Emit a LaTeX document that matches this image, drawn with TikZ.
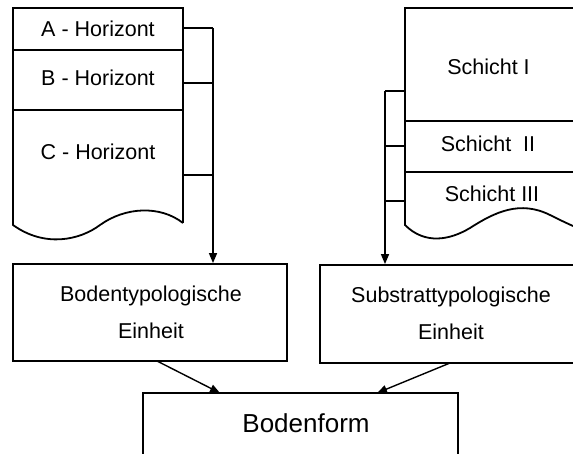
\documentclass[tikz,border=0pt]{standalone}
\usepackage{fontspec}
\setmainfont{Liberation Sans}
\usetikzlibrary{arrows.meta}
\begin{document}
\begin{tikzpicture}[x=1pt,y=-1pt,
  prof/.style={line width=1.8pt},
  conn/.style={line width=1.4pt},
  arr/.style={line width=1.4pt,-{Triangle[length=10pt,width=8pt]}},
  lbl/.style={inner sep=0pt,anchor=base,font=\fontsize{21.5}{25}\selectfont},
  unitbox/.style={draw,line width=1.8pt,inner sep=0pt},
  boxtext/.style={inner sep=0pt,anchor=base,font=\fontsize{21.5}{25}\selectfont}]
\useasboundingbox (0,0) rectangle (573,454);
\clip (0,0) rectangle (573,454);
% left profile
\draw[prof] (183,223) -- (183,8) -- (13,8) -- (13,225)
  .. controls (45,248) and (80,240) .. (100,225)
  .. controls (125,207) and (160,205) .. (183,223);
\draw[prof] (13,50) -- (183,50);
\draw[prof] (13,110) -- (183,110);
\node[lbl] (ah) at (98,36.5) {A - Horizont};
\node[lbl] (bh) at (98,86) {B - Horizont};
\node[lbl] (ch) at (98,160) {C - Horizont};
% right profile
\draw[prof] (600,8) -- (405,8) -- (405,225)
  .. controls (425,245) and (450,240) .. (470,228)
  .. controls (495,212) and (520,200) .. (550,215)
  .. controls (570,225) and (585,232) .. (600,235);
\draw[prof] (405,121) -- (600,121);
\draw[prof] (405,172) -- (600,172);
\node[lbl] (s1) at (488.5,75) {Schicht I};
\node[lbl] (s2) at (488,152) {Schicht\ \ II};
\node[lbl] (s3) at (492,202) {Schicht III};
% boxes
\node[unitbox,minimum width=274pt,minimum height=97pt] (bb) at (150,312.5) {};
\node[boxtext] (bbt1) at (151,302) {Bodentypologische};
\node[boxtext] (bbt2) at (151,338) {Einheit};
\node[unitbox,minimum width=270pt,minimum height=98pt] (sb) at (455,314) {};
\node[boxtext] (sbt1) at (451,303) {Substrattypologische};
\node[boxtext] (sbt2) at (451,339) {Einheit};
\node[unitbox,minimum width=315pt,minimum height=87pt] (bf) at (300.5,436.5) {};
\node[inner sep=0pt,anchor=base,font=\fontsize{26}{30}\selectfont] (bft) at (306,432) {Bodenform};
% left connectors
\coordinate (la) at (213,28);
\coordinate (lb) at (213,83);
\coordinate (lc) at (213,175);
\draw[conn] (183,28) -- (la);
\draw[conn] (183,83) -- (lb);
\draw[conn] (183,175) -- (lc);
\draw[arr] (la) -- (bb.north -| la);
% right connectors
\coordinate (ra) at (385,91);
\coordinate (rb) at (385,146);
\coordinate (rc) at (385,201);
\draw[conn] (405,91) -- (ra);
\draw[conn] (405,146) -- (rb);
\draw[conn] (405,201) -- (rc);
\draw[arr] (ra) -- (sb.north -| ra);
% lower arrows
\coordinate (bbo) at (157,361);
\coordinate (bfl) at (220,393);
\coordinate (sbo) at (450,363);
\coordinate (bfr) at (377,393);
\draw[arr] (bbo) -- (bfl);
\draw[arr] (sbo) -- (bfr);
\end{tikzpicture}
\end{document}
